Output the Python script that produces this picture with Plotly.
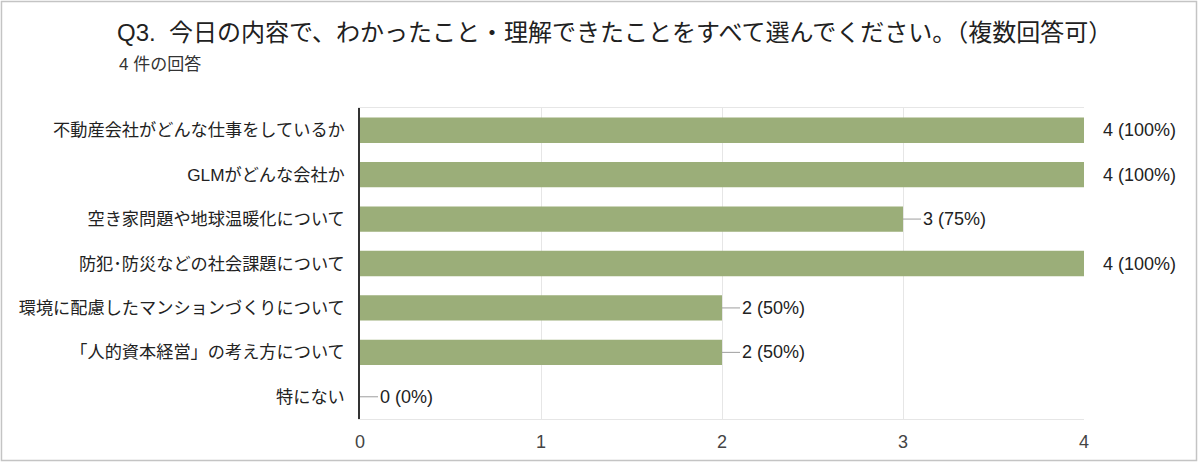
import plotly.graph_objects as go

title_text = "Q3.  今日の内容で、わかったこと・理解できたことをすべて選んでください。（複数回答可）"
subtitle_text = "4 件の回答"
categories = [
    "不動産会社がどんな仕事をしているか",
    "GLMがどんな会社か",
    "空き家問題や地球温暖化について",
    "防犯･防災などの社会課題について",
    "環境に配慮したマンションづくりについて",
    "「人的資本経営」の考え方について",
    "特にない",
]
counts = [4, 4, 3, 4, 2, 2, 0]
total = 4
x_ticks = [0, 1, 2, 3, 4]

FONT = "Liberation Sans, Arial, sans-serif"
JFONT = "Liberation Sans, Noto Sans CJK JP, sans-serif"

fig = go.Figure()
fig.add_trace(go.Bar(
    x=counts, y=categories, orientation="h",
    marker=dict(color="#9bae79", line=dict(width=0)),
    width=0.57, hoverinfo="skip",
))

annotations = []
for c, v in zip(categories, counts):
    label = f"{v} ({round(v / total * 100)}%)"
    if v < total:
        annotations.append(dict(
            x=v, y=c, xref="x", yref="y", text=label,
            showarrow=True, ax=18, ay=0, axref="pixel", ayref="pixel",
            xanchor="left", yanchor="middle",
            arrowhead=0, arrowwidth=1, arrowcolor="#9e9e9e", standoff=0,
            font=dict(family=FONT, size=18, color="#222222"),
        ))
    else:
        annotations.append(dict(
            x=v, y=c, xref="x", yref="y", text=label,
            showarrow=False, xanchor="left", yanchor="middle", xshift=17,
            font=dict(family=FONT, size=18, color="#222222"),
        ))

annotations.append(dict(
    x=-0.3356, y=1.1415, xref="paper", yref="paper", text=subtitle_text,
    showarrow=False, xanchor="left", yanchor="middle",
    font=dict(family=JFONT, size=17, color="#333333"),
))

fig.update_layout(
    width=1200, height=462,
    margin=dict(l=360, r=116, t=108, b=43, autoexpand=False),
    paper_bgcolor="white", plot_bgcolor="white",
    showlegend=False,
    title=dict(
        text=title_text, xref="container", x=117 / 1200,
        yref="container", y=1 - 33 / 462, xanchor="left", yanchor="middle",
        font=dict(family=JFONT, size=24, color="#212121"),
    ),
    annotations=annotations,
    shapes=[dict(
        type="rect", xref="paper", yref="paper",
        x0=-0.4952, x1=1.1554, y0=-0.1334, y1=1.3424,
        line=dict(color="#c4c4c4", width=1.5), fillcolor="rgba(0,0,0,0)",
        layer="below",
    )],
    xaxis=dict(
        range=[0, 4], tickvals=x_ticks, ticktext=[str(t) for t in x_ticks],
        showgrid=True, gridcolor="#e6e6e6", gridwidth=1,
        zeroline=False, showline=True, linecolor="#e6e6e6", mirror=True,
        ticks="", ticklabelstandoff=6, automargin=False,
        tickfont=dict(family=FONT, size=18, color="#444444"),
        fixedrange=True,
    ),
    yaxis=dict(
        showgrid=False, zeroline=False, showline=True, linecolor="#333333",
        linewidth=1.5, ticks="", ticklabelstandoff=10, automargin=False,
        tickfont=dict(family=JFONT, size=17.2, color="#222222"),
        fixedrange=True,
    ),
    bargap=0.43,
)
fig.update_yaxes(range=[6.5, -0.5], autorange=False)

fig.write_html("out.html")
